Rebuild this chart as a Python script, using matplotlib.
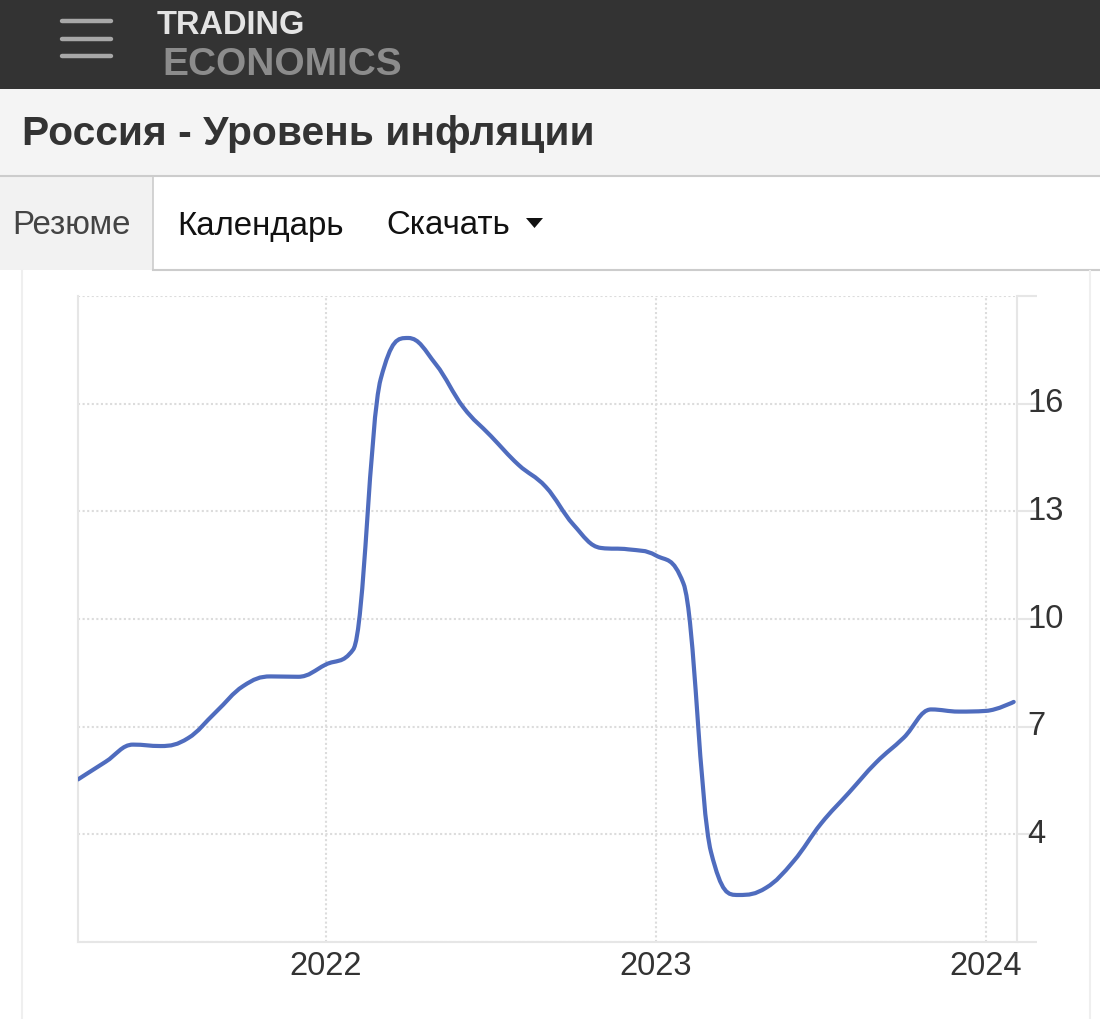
import numpy as np
import matplotlib
matplotlib.use("Agg")
import matplotlib.pyplot as plt
from matplotlib.path import Path
from matplotlib.patches import PathPatch, Rectangle, Polygon
from matplotlib.transforms import ScaledTranslation

plt.rcParams['font.family'] = ['Liberation Sans', 'DejaVu Sans']

# Россия, инфляция г/г, %, апрель 2021 - февраль 2024
start_year, start_month = 2021, 4
inflation = [5.53, 6.02, 6.50, 6.46, 6.68, 7.40, 8.13, 8.40, 8.39,
             8.73, 9.15, 16.69, 17.83, 17.10, 15.90, 15.10, 14.30, 13.68, 12.63, 11.98, 11.94,
             11.77, 10.99, 3.51, 2.31, 2.51, 3.25, 4.30, 5.15, 6.00, 6.69, 7.48, 7.42,
             7.44, 7.69]
year_ticks = [2022, 2023, 2024]
y_ticks = [1, 4, 7, 10, 13, 16, 19]
y_labels = ['', '4', '7', '10', '13', '16', '']

title = "Россия - Уровень инфляции"
tabs = ["Резюме", "Календарь", "Скачать"]

LINE = '#4f6cbe'
GRID = '#dcdcdc'
AXIS = '#e6e6e6'
TXT = '#333333'


def spline_path(x, y, smoothing=1.5):
    # кривая как в highcharts spline
    x = np.asarray(x, float)
    y = np.asarray(y, float)
    n = len(x)
    den = smoothing + 1
    lcx, lcy = x.copy(), y.copy()
    rcx, rcy = x.copy(), y.copy()
    for i in range(1, n - 1):
        px, py, nx, ny = x[i - 1], y[i - 1], x[i + 1], y[i + 1]
        lx = (smoothing * x[i] + px) / den
        ly = (smoothing * y[i] + py) / den
        rx = (smoothing * x[i] + nx) / den
        ry = (smoothing * y[i] + ny) / den
        corr = (ry - ly) * (rx - x[i]) / (rx - lx) + y[i] - ry
        ly += corr
        ry += corr
        if ly > py and ly > y[i]:
            ly = max(py, y[i]); ry = 2 * y[i] - ly
        elif ly < py and ly < y[i]:
            ly = min(py, y[i]); ry = 2 * y[i] - ly
        if ry > ny and ry > y[i]:
            ry = max(ny, y[i]); ly = 2 * y[i] - ry
        elif ry < ny and ry < y[i]:
            ry = min(ny, y[i]); ly = 2 * y[i] - ry
        lcx[i], lcy[i], rcx[i], rcy[i] = lx, ly, rx, ry
    verts = [(x[0], y[0])]
    codes = [Path.MOVETO]
    for i in range(1, n):
        verts += [(rcx[i - 1], rcy[i - 1]), (lcx[i], lcy[i]), (x[i], y[i])]
        codes += [Path.CURVE4] * 3
    return Path(verts, codes)


fig = plt.figure(figsize=(11, 10.2), dpi=100)
fig.patch.set_facecolor('white')

# фон страницы в пикселях
bg = fig.add_axes([0, 0, 1, 1], zorder=0)
bg.set_xlim(0, 1100)
bg.set_ylim(1020, 0)
bg.axis('off')

bg.add_patch(Rectangle((0, 0), 1100, 90, color='#333333', lw=0))
for yy in [22, 40, 57]:
    bg.plot([62, 111], [yy, yy], color='#a8a8a8', lw=3.2, solid_capstyle='round')
bg.text(157, 34.5, "TRADING", color='#e4e4e4', fontsize=23.5, fontweight='bold',
        va='baseline', ha='left')
bg.text(162, 75, "ECONOMICS", color='#8c8c8c', fontsize=28, fontweight='bold',
        va='baseline', ha='left')

bg.add_patch(Rectangle((0, 90), 1100, 87, color='#f4f4f4', lw=0))
bg.plot([0, 1100], [177, 177], color='#cccccc', lw=1.5)
bg.text(22, 134, title, color=TXT, fontsize=29.3, fontweight='bold', va='center', ha='left')

bg.add_patch(Rectangle((0, 178), 153, 93, color='#f2f2f2', lw=0))
bg.plot([153, 153], [178, 271], color='#cccccc', lw=1.2)
bg.plot([153, 1100], [271, 271], color='#cccccc', lw=1.5)
bg.text(12, 226, tabs[0], color='#444444', fontsize=23.8, va='center', ha='left')
bg.text(177, 226, tabs[1], color='#111111', fontsize=23.8, va='center', ha='left')
bg.text(386, 226, tabs[2], color='#111111', fontsize=23.8, va='center', ha='left')
bg.add_patch(Polygon([(526, 219), (543, 219), (534.5, 229)], closed=True, color='#111111', lw=0))

bg.plot([22, 22], [272, 1020], color='#efefef', lw=1.5)
bg.plot([1090, 1090], [272, 1020], color='#efefef', lw=1.5)

# график
ax = fig.add_axes([78 / 1100, 1 - 943 / 1020, (1017 - 78) / 1100, (943 - 297) / 1020], zorder=1)
ax.patch.set_alpha(0)

months = np.arange(len(inflation))
t = start_year + (start_month - 1 + months) / 12.0
ax.add_patch(PathPatch(spline_path(t, inflation), facecolor='none', edgecolor=LINE,
                       lw=3, capstyle='round', joinstyle='round', zorder=3))

ax.set_xlim(t[0], t[-1] + 0.01)
ax.set_ylim(y_ticks[0], y_ticks[-1])

ax.set_yticks(y_ticks)
ax.set_xticks(year_ticks)
ax.yaxis.tick_right()
ax.tick_params(axis='y', which='both', length=14.5, width=1.5, color=AXIS, labelright=False)
ax.tick_params(axis='x', length=0, labelbottom=False)
ax.grid(True, color=GRID, lw=1.5, linestyle=(0, (1, 1.2)))

ax.spines['top'].set_visible(False)
for s in ['left', 'right', 'bottom']:
    ax.spines[s].set_color(AXIS)
    ax.spines[s].set_linewidth(1.5)

off = ScaledTranslation(0, 1 / 100, fig.dpi_scale_trans)
for v, lab in zip(y_ticks, y_labels):
    ax.text(1.011, v, lab, transform=ax.get_yaxis_transform() + off,
            ha='left', va='center', fontsize=23.5, color=TXT)
for yr in year_ticks:
    ax.text(yr, -0.013, str(yr), transform=ax.get_xaxis_transform(),
            ha='center', va='top', fontsize=23.5, color=TXT)

fig.savefig('out.png', dpi=100)
